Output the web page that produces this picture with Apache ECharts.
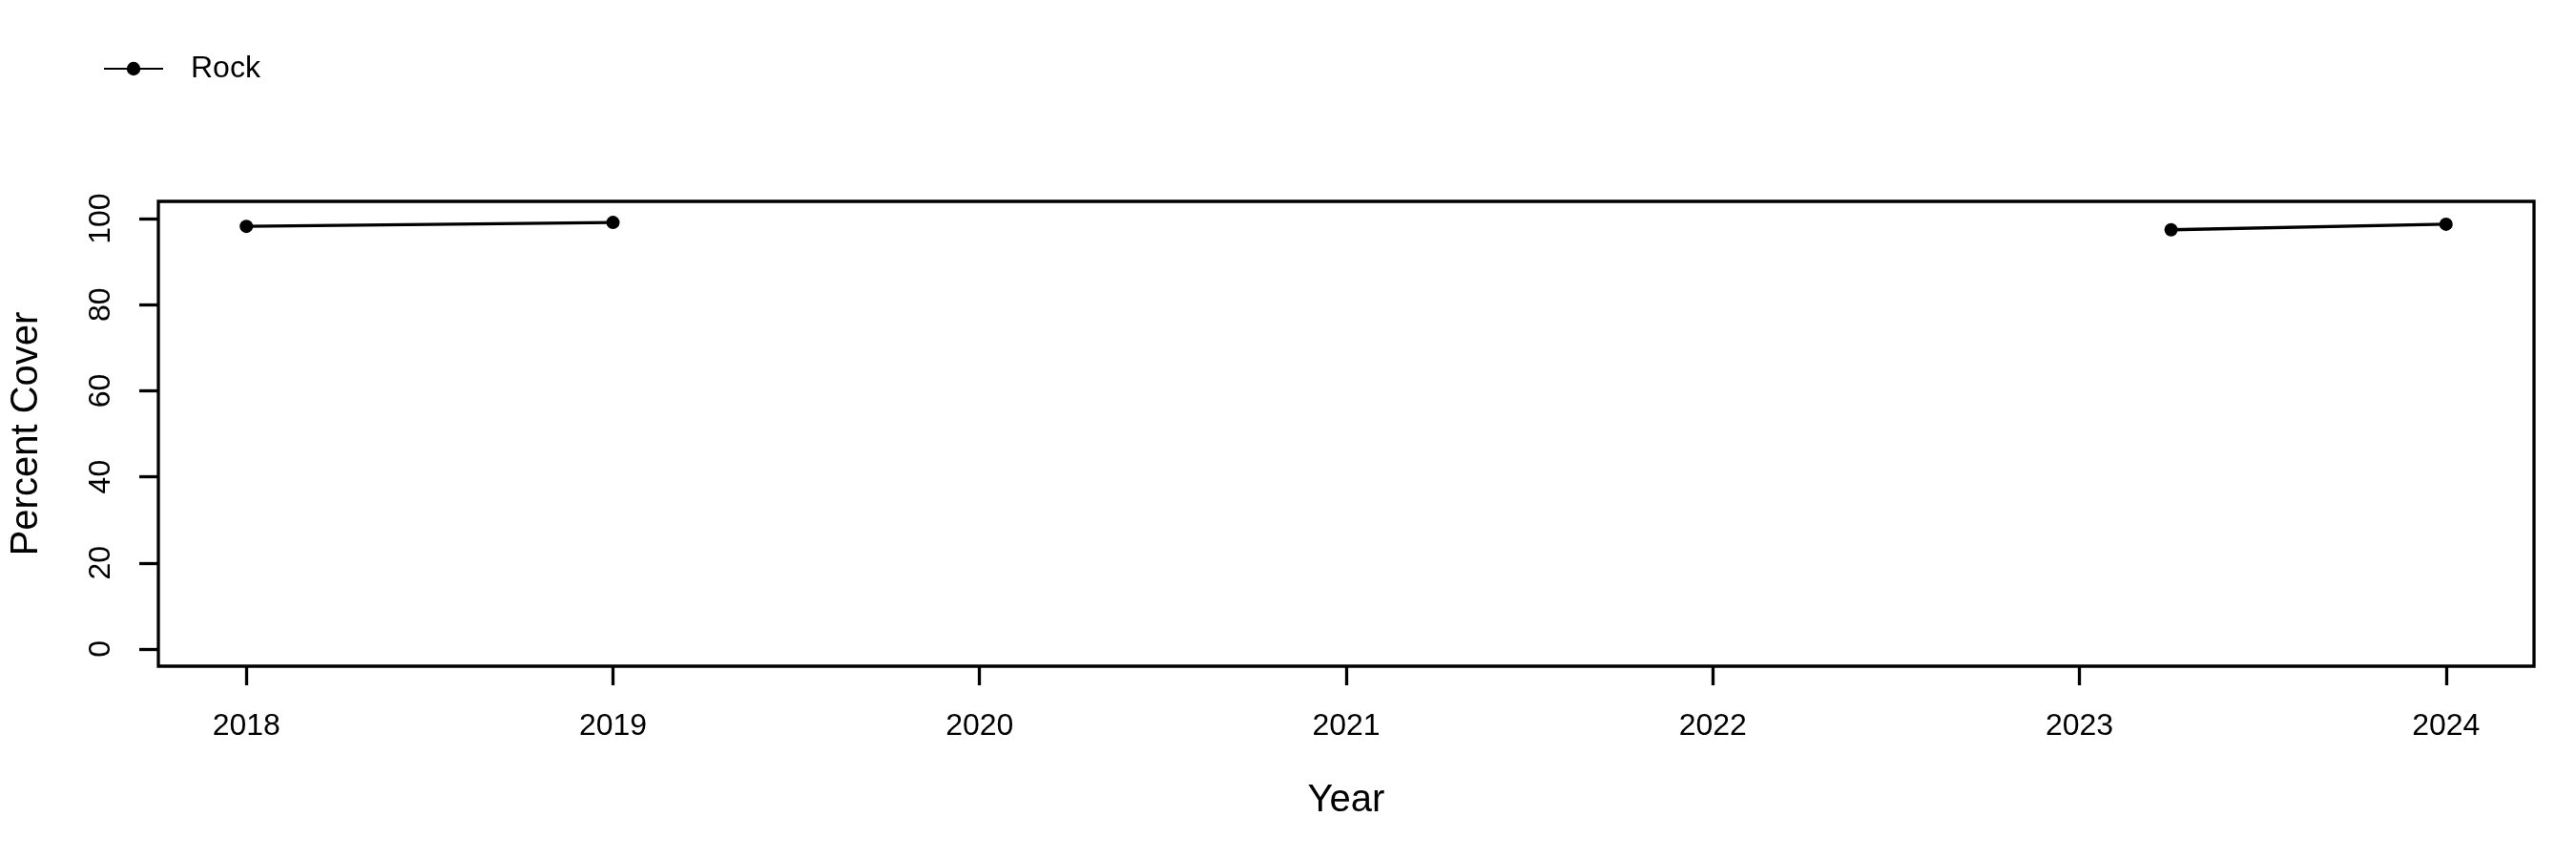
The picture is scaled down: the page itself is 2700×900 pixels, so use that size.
<!DOCTYPE html>
<html>
<head>
<meta charset="utf-8">
<script src="https://cdn.jsdelivr.net/npm/echarts@6/dist/echarts.min.js"></script>
<style>
html,body{margin:0;padding:0;background:#fff;}
#chart{width:2700px;height:900px;}
</style>
</head>
<body>
<div id="chart"></div>
<script>
// Data
const seriesName = 'Rock';
const years = [2018, 2019, 2020, 2021, 2022, 2023.25, 2024];
const cover = [98.2, 99.1, null, null, null, 97.4, 98.7];
const xTicks = [2018, 2019, 2020, 2021, 2022, 2023, 2024];
const yTicks = [0, 20, 40, 60, 80, 100];

const FONT = 'Liberation Sans, Arial, sans-serif';
const chart = echarts.init(document.getElementById('chart'), null, {renderer: 'canvas'});

const seriesData = years.map((y, i) => [y, cover[i] === null ? '-' : cover[i]]);

chart.setOption({
  backgroundColor: '#ffffff',
  animation: false,
  legend: {
    show: true,
    left: 108,
    top: 56,
    padding: 0,
    itemWidth: 62,
    itemHeight: 18,
    textStyle: {fontFamily: FONT, fontSize: 32, color: '#000', padding: [0, 0, 0, 24]},
    data: [seriesName]
  },
  grid: {
    left: 162, right: 44, top: 211, bottom: 202,
    show: true, borderColor: '#000', borderWidth: 3.3, backgroundColor: 'transparent',
    containLabel: false
  },
  xAxis: {
    type: 'value',
    min: 2017.76, max: 2024.24,
    name: 'Year',
    nameLocation: 'middle',
    nameGap: 121,
    nameTextStyle: {fontFamily: FONT, fontSize: 40, color: '#000'},
    axisLine: {show: false, onZero: false},
    splitLine: {show: false},
    axisTick: {show: true, length: 20, lineStyle: {color: '#000', width: 3.3}, customValues: xTicks},
    axisLabel: {show: true, margin: 47, fontFamily: FONT, fontSize: 32, color: '#000', customValues: xTicks,
      formatter: v => String(v)}
  },
  yAxis: {
    type: 'value',
    min: -4, max: 104,
    name: 'Percent Cover',
    nameLocation: 'middle',
    nameGap: 118,
    nameRotate: 90,
    nameTextStyle: {fontFamily: FONT, fontSize: 40, color: '#000'},
    axisLine: {show: false, onZero: false},
    splitLine: {show: false},
    axisTick: {show: true, length: 20, lineStyle: {color: '#000', width: 3.3}, customValues: yTicks},
    axisLabel: {show: true, rotate: 90, margin: 44, fontFamily: FONT, fontSize: 32, color: '#000', customValues: yTicks}
  },
  series: [{
    name: seriesName,
    type: 'line',
    data: seriesData,
    connectNulls: false,
    symbol: 'circle',
    symbolSize: 14,
    lineStyle: {color: '#000', width: 3.3},
    itemStyle: {color: '#000'},
    emphasis: {disabled: true}
  }]
});
</script>
</body>
</html>
